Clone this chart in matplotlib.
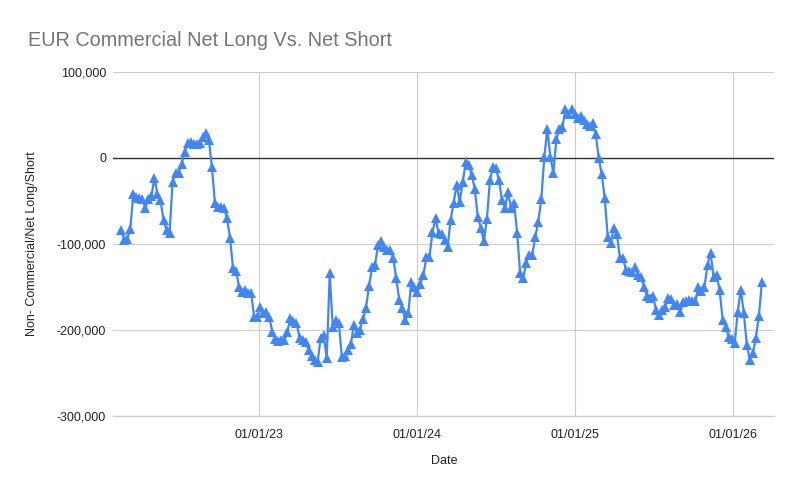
import numpy as np
import pandas as pd
import matplotlib
matplotlib.use('Agg')
import matplotlib.pyplot as plt
import matplotlib.dates as mdates
from matplotlib.ticker import FuncFormatter

plt.rcParams['font.family'] = ['Liberation Sans', 'DejaVu Sans']

title = 'EUR Commercial Net Long Vs. Net Short'
x_label = 'Date'
y_label = 'Non- Commercial/Net Long/Short'

# weekly COT reports (Tuesdays)
start_date = '2022-02-15'
net_k = [
    -84, -95, -94, -83, -42, -45, -47, -48, -58, -48,
    -44, -23, -42, -49, -72, -84, -87, -28, -17, -17,
    -7, 7, 18, 19, 16, 16, 18, 24, 29, 21,
    -10, -52, -57, -57, -58, -70, -93, -128, -131, -150,
    -156, -154, -157, -157, -185, -185, -173, -180, -179, -185,
    -202, -210, -213, -212, -212, -202, -186, -189, -192, -209,
    -212, -214, -223, -230, -235, -237, -209, -206, -233, -134,
    -197, -188, -192, -231, -230, -223, -216, -194, -204, -200,
    -187, -174, -149, -127, -124, -101, -97, -103, -107, -107,
    -116, -140, -165, -174, -188, -180, -144, -150, -156, -146,
    -136, -115, -115, -86, -70, -87, -88, -95, -103, -72,
    -52, -31, -51, -28, -5, -8, -20, -36, -69, -81,
    -97, -71, -26, -10, -12, -26, -49, -58, -40, -58,
    -52, -87, -134, -140, -122, -113, -113, -92, -74, -48,
    1, 34, 1, -17, 22, 34, 36, 57, 51, 57,
    51, 46, 49, 44, 40, 37, 41, 28, 0, -19,
    -47, -92, -99, -81, -88, -116, -116, -130, -131, -132,
    -127, -136, -138, -150, -160, -163, -161, -177, -183, -177,
    -173, -163, -164, -171, -170, -179, -168, -166, -165, -166,
    -166, -150, -155, -150, -124, -110, -138, -136, -153, -188,
    -196, -208, -211, -215, -179, -153, -180, -217, -235, -227,
    -209, -184, -144,
]
year_ticks = ['2023-01-01', '2024-01-01', '2025-01-01', '2026-01-01']

dates = pd.date_range(start_date, periods=len(net_k), freq='7D')
values = np.array(net_k) * 1000

W, H = 796, 493
fig = plt.figure(figsize=(W / 100, H / 100), dpi=100)
ax = fig.add_axes([113 / W, 1 - 416 / H, (774 - 113) / W, (416 - 72) / H])

ax.plot(dates, values, color='#4285F4', lw=1.6, marker='^', ms=7,
        markeredgewidth=0, zorder=3)

ax.set_ylim(-300000, 100000)
ax.set_yticks([-300000, -200000, -100000, 0, 100000])
ax.yaxis.set_major_formatter(FuncFormatter(lambda v, p: f'{int(v):,}'))
ax.set_xlim(pd.Timestamp('2023-01-01') - pd.Timedelta(days=339),
            pd.Timestamp('2023-01-01') + pd.Timedelta(days=1192))
ax.set_xticks(pd.to_datetime(year_ticks))
ax.xaxis.set_major_formatter(mdates.DateFormatter('%m/%d/%y'))

ax.grid(True, color='#cccccc', lw=0.8)
ax.axhline(0, color='#333333', lw=1.0, zorder=2)
ax.axhline(-300000, color='#cccccc', lw=1.0, zorder=2, clip_on=False)
for s in ax.spines.values():
    s.set_visible(False)
ax.tick_params(length=0, labelsize=9, colors='#222222')
ax.tick_params(axis='x', pad=9)
ax.tick_params(axis='y', pad=5)

fig.text(28 / W, 1 - 40 / H, title, fontsize=14.3, color='#757575', va='center', ha='left')
fig.text(444 / W, 1 - 461 / H, x_label, fontsize=9, color='#222222', ha='center', va='center')
fig.text(32 / W, 1 - 244 / H, y_label, fontsize=9, color='#222222', ha='center', va='center',
         rotation=90)

fig.savefig('out.png', dpi=100)
